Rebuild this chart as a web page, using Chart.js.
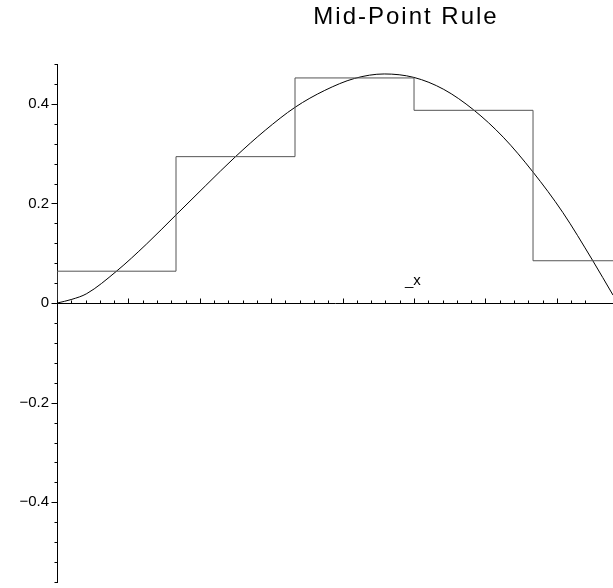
<!DOCTYPE html>
<html>
<head>
<meta charset="utf-8">
<script src="https://cdn.jsdelivr.net/npm/chart.js@4.4.1/dist/chart.umd.min.js"></script>
<style>
  html, body { margin: 0; padding: 0; background: #fff; overflow: hidden; }
  #wrap { width: 613px; height: 588px; }
</style>
</head>
<body>
<div id="wrap"><canvas id="midpoint" width="613" height="588"></canvas></div>
<script>
// box edges and box heights (mid-point values), width of one box = 1 unit
const boxEdges = [0, 1, 2, 3, 4, 5];
const boxHeights = [0.064, 0.294, 0.452, 0.387, 0.085];
const boxStart = 0.006;

// the curve
const curveX = [0, 0.125, 0.25, 0.5, 0.75, 1.0, 1.25, 1.5, 1.75, 2.0, 2.25, 2.5, 2.75, 3.0, 3.25, 3.5, 3.75, 4.0, 4.25, 4.5, 4.672];
const curveY = [0, 0.0075, 0.019, 0.064, 0.118, 0.177, 0.236, 0.294, 0.347, 0.393, 0.427, 0.451, 0.460, 0.453, 0.429, 0.388, 0.333, 0.263, 0.182, 0.086, 0.016];

// axis settings
const xMin = 0, xMax = 4.672, xStep = 0.12, xMajor = 0.6;
const yMin = -0.56, yMax = 0.48, yStep = 0.04, yMajor = 0.2;
const titleText = 'Mid-Point Rule';
const axisName = '_x';

const stepPts = [{x: boxEdges[0], y: boxStart}];
boxHeights.forEach((h, i) => stepPts.push({x: boxEdges[i], y: h}));
stepPts.push({x: boxEdges[boxEdges.length - 1], y: boxHeights[boxHeights.length - 1]});

const curvePts = curveX.map((x, i) => ({x: x, y: curveY[i]}));

function onStep(v, step) {
  const r = v / step;
  return Math.abs(r - Math.round(r)) < 1e-6;
}

// tick marks: major ones longer, drawn through the scales
const mapleAxes = {
  id: 'mapleAxes',
  afterDraw(chart) {
    const ctx = chart.ctx;
    const xs = chart.scales.x, ys = chart.scales.y;
    const y0 = Math.round(ys.getPixelForValue(0)) + 0.5;
    const x0 = Math.round(xs.getPixelForValue(0)) + 0.5;
    ctx.save();
    ctx.strokeStyle = '#000';
    ctx.lineWidth = 1;
    ctx.beginPath();
    xs.ticks.forEach(t => {
      if (!onStep(t.value, xStep) || t.value <= 0) return;
      const px = Math.round(xs.getPixelForValue(t.value)) + 0.5;
      const len = onStep(t.value, xMajor) ? 5 : 3;
      ctx.moveTo(px, y0);
      ctx.lineTo(px, y0 - len);
    });
    ys.ticks.forEach(t => {
      if (!onStep(t.value, yStep)) return;
      const py = Math.round(ys.getPixelForValue(t.value)) + 0.5;
      const len = onStep(t.value, yMajor) ? 6 : 3;
      ctx.moveTo(x0, py);
      ctx.lineTo(x0 - len, py);
    });
    ctx.stroke();

    ctx.fillStyle = '#000';
    ctx.textAlign = 'center';
    ctx.textBaseline = 'alphabetic';
    ctx.font = '24px "Liberation Sans", Arial, sans-serif';
    ctx.letterSpacing = '2px';
    ctx.fillText(titleText, 406, 24);
    ctx.letterSpacing = '0px';
    ctx.font = '15px "Liberation Sans", Arial, sans-serif';
    ctx.fillText(axisName, xs.getPixelForValue(2.99), ys.getPixelForValue(0) - 18);
    ctx.restore();
  }
};

new Chart(document.getElementById('midpoint'), {
  type: 'scatter',
  data: {
    datasets: [
      {
        label: 'boxes',
        data: stepPts,
        showLine: true,
        stepped: 'before',
        borderColor: '#555555',
        borderWidth: 1,
        pointRadius: 0
      },
      {
        label: 'f',
        data: curvePts,
        showLine: true,
        cubicInterpolationMode: 'monotone',
        borderColor: '#000000',
        borderWidth: 1,
        pointRadius: 0
      }
    ]
  },
  plugins: [mapleAxes],
  options: {
    responsive: false,
    animation: false,
    layout: { padding: { top: 64, bottom: 6, left: 0, right: 0 } },
    plugins: {
      legend: { display: false },
      title: { display: false },
      tooltip: { enabled: false }
    },
    scales: {
      x: {
        type: 'linear',
        position: { y: 0 },
        min: xMin,
        max: xMax,
        afterFit(scale) { scale.height = 0; },
        ticks: { display: false, stepSize: xStep, autoSkip: false },
        grid: { drawOnChartArea: false, drawTicks: false },
        border: { color: '#000', width: 1 }
      },
      y: {
        type: 'linear',
        min: yMin,
        max: yMax,
        afterFit(scale) {
          scale.width = 57;
          scale.paddingTop = 0;
          scale.paddingBottom = 0;
        },
        ticks: {
          stepSize: yStep,
          autoSkip: false,
          padding: 8,
          color: '#000',
          font: { family: '"Liberation Sans", Arial, sans-serif', size: 15 },
          callback(v) {
            if (!onStep(v, yMajor)) return '';
            const r = Math.round(v * 10) / 10;
            if (r === 0) return '0';
            return r < 0 ? '\u2212' + Math.abs(r).toFixed(1) : r.toFixed(1);
          }
        },
        grid: { drawOnChartArea: false, drawTicks: false },
        border: { color: '#000', width: 1 }
      }
    }
  }
});
</script>
</body>
</html>
